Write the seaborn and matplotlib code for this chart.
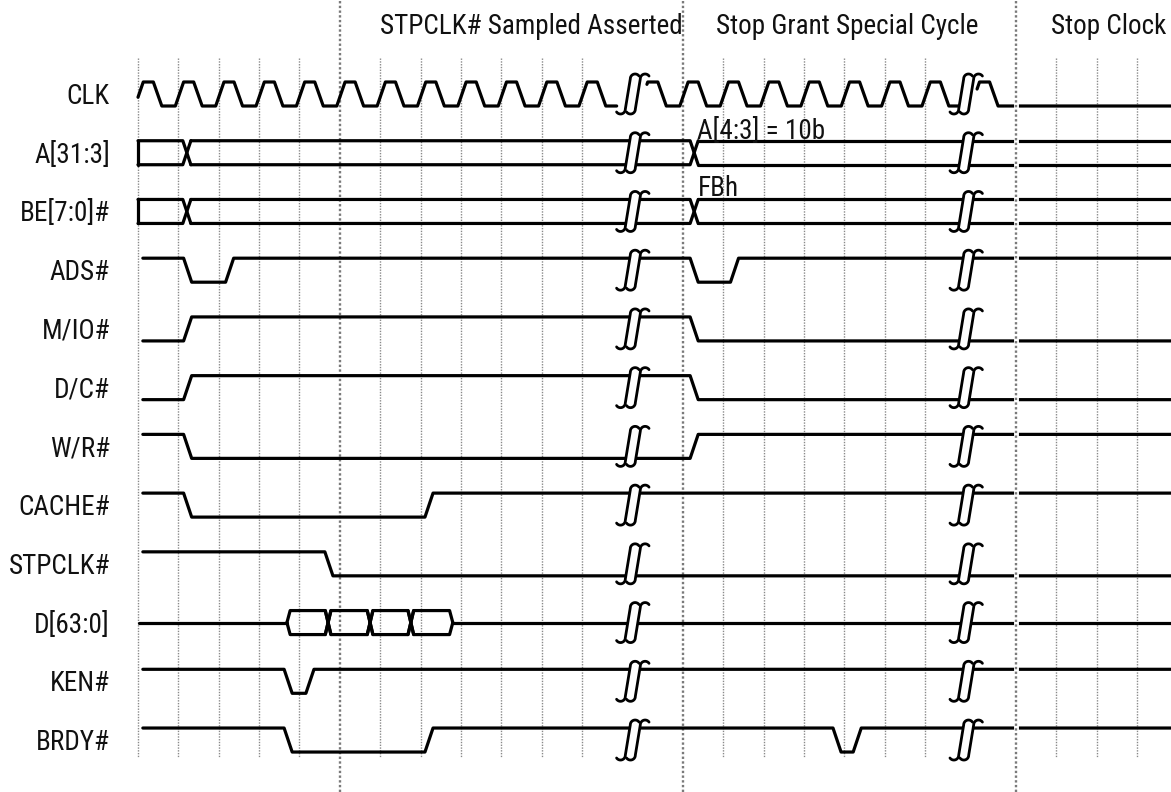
import numpy as np
import pandas as pd
import seaborn as sns
import matplotlib.pyplot as plt
from matplotlib import font_manager as fm

sns.set_theme(style='white')
plt.rcParams['font.family'] = ['Liberation Sans', 'DejaVu Sans']

# ---- data: time in clock periods, one row per signal (top to bottom) ----
signal_names = ['CLK', 'A[31:3]', 'BE[7:0]#', 'ADS#', 'M/IO#', 'D/C#', 'W/R#',
                'CACHE#', 'STPCLK#', 'D[63:0]', 'KEN#', 'BRDY#']

grid_times = [0, 1, 2, 3, 4, 5, 6, 7, 8, 9, 10, 11,
              13.5, 14.5, 15.5, 16.5, 17.5, 18.5, 19.5,
              21.75, 22.75, 23.75, 24.75]
tall_times = [5, 13.5, 21.75]
break_times = [12.26, 20.52]

header_texts = ['STPCLK# Sampled Asserted', 'Stop Grant Special Cycle', 'Stop Clock']
header_times = [9.74, 17.57, 24.06]

# clock: rising edges and the visible stretches between the breaks
clk_rises = [0, 1, 2, 3, 4, 5, 6, 7, 8, 9, 10, 11, 12.5,
             13.5, 14.5, 15.5, 16.5, 17.5, 18.5, 19.5, 20.72]
clk_spans = [(0, 11.86), (12.61, 20.42), (20.79, 25.6)]

# single-line signals: (edge start, new level)
ads_edges = [(1.13, 0), (2.17, 1), (13.68, 0), (14.68, 1)]
mio_edges = [(1.13, 1), (13.68, 0)]
dc_edges = [(1.13, 1), (13.68, 0)]
wr_edges = [(1.13, 0), (13.68, 1)]
cache_edges = [(1.13, 0), (7.11, 1)]
stpclk_edges = [(4.63, 0)]
ken_edges = [(3.62, 0), (4.16, 1)]
brdy_edges = [(3.62, 0), (7.11, 1), (17.22, 0), (17.72, 1)]

# buses
addr_cross = [1.11, 13.68]          # A[31:3] and BE[7:0]# change points
data_open, data_close = 3.69, 7.80  # D[63:0] driven window
data_cross = [4.71, 5.75, 6.76]     # D[63:0] data transfers

annotations = [('A[4:3] = 10b', 13.85, 0.766), ('FBh', 13.87, 1.737)]


# ---- pick a condensed face if one is installed ----
def pick_font():
    prefs = ['Roboto Condensed', 'Liberation Sans Narrow', 'DejaVu Sans',
             'Noto Sans', 'Open Sans', 'Roboto', 'Lato', 'Inter']
    found = []
    for f in fm.fontManager.ttflist:
        narrow = ('Narrow' in f.name or 'Condensed' in f.name
                  or str(f.stretch) in ('condensed', 'semi-condensed', 'extra-condensed'))
        if not narrow or f.style != 'normal':
            continue
        w = f.weight if isinstance(f.weight, (int, float)) else 400
        rank = next((i for i, p in enumerate(prefs) if f.name.startswith(p)), 99)
        found.append((rank, abs(w - 380), f.fname))
    if found:
        return sorted(found)[0][2]
    return fm.findfont(fm.FontProperties(family='Liberation Sans'))


FONT = pick_font()

# ---- geometry ----
PX, PY = 40.36, 58.73        # pixels per clock, pixels per row
X0, Y0 = 138, 94
AMP = 12 / PY
SLEW = 0.2
END = (1171 - X0) / PX

fig = plt.figure(figsize=(11.71, 7.92), dpi=100)
ax = fig.add_axes([0, 0, 1, 1])
ax.set_xlim(-X0 / PX, END)
ax.set_ylim((792 - Y0) / PY, -Y0 / PY)
ax.axis('off')

# size the text so the first header is as wide as in the original
probe = ax.text(0, 0, header_texts[0], fontproperties=fm.FontProperties(fname=FONT, size=20))
fig.canvas.draw()
w = probe.get_window_extent().width
probe.remove()
FS = min(22.0, 20 * 302 / w)
FP = fm.FontProperties(fname=FONT, size=FS)


def lvl(row, level):
    return row + (0.5 - level) * 2 * AMP


segs = []
seg_id = [0]


def add(points, row):
    for u, l in points:
        segs.append((seg_id[0], u, lvl(row, l)))
    seg_id[0] += 1


# clock
pts = [(-1, 0)]
for g in clk_rises:
    pts += [(g - 0.075, 0), (g + 0.13, 1), (g + 0.38, 1), (g + 0.59, 0)]
pts.append((END + 1, 0))
us = np.array([p[0] for p in pts])
ls = np.array([p[1] for p in pts], dtype=float)
for a, b in clk_spans:
    inner = [(u, l) for u, l in zip(us, ls) if a < u < b]
    add([(a, np.interp(a, us, ls))] + inner + [(b, np.interp(b, us, ls))], 0)

# single-line signals
single = [(3, 1, ads_edges), (4, 0, mio_edges), (5, 0, dc_edges), (6, 1, wr_edges),
          (7, 1, cache_edges), (8, 1, stpclk_edges), (10, 1, ken_edges),
          (11, 1, brdy_edges)]
for row, init, edges in single:
    cur = init
    p = [(0.12, cur)]
    for t, new in edges:
        p += [(t, cur), (t + SLEW, new)]
        cur = new
    p.append((END, cur))
    add(p, row)

# address buses
for row in (1, 2):
    add([(0, 1), (0, 0)], row)
    start = 0
    for c in addr_cross:
        add([(start, 1), (c, 1), (c + SLEW, 0)], row)
        add([(start, 0), (c, 0), (c + SLEW, 1)], row)
        start = c + SLEW
    add([(start, 1), (END, 1)], row)
    add([(start, 0), (END, 0)], row)

# data bus
row = 9
W, HW = 0.08, 0.07
add([(0.03, 0.5), (data_open, 0.5)], row)
bounds = [data_open] + data_cross + [data_close]
n = len(bounds) - 1
for i in range(n):
    first, last = i == 0, i == n - 1
    pa = bounds[i] - (0 if first else HW)
    a = bounds[i] + (W if first else HW)
    b = bounds[i + 1] - (W if last else HW)
    pb = bounds[i + 1] + (0 if last else HW)
    add([(pa, 0.5 if first else 0), (a, 1), (b, 1), (pb, 0.5 if last else 0)], row)
    add([(pa, 0.5 if first else 1), (a, 0), (b, 0), (pb, 0.5 if last else 1)], row)
add([(data_close, 0.5), (END, 0.5)], row)

df = pd.DataFrame(segs, columns=['seg', 'u', 'y'])

# grid lines
y_short = ((58 - Y0) / PY, (758 - Y0) / PY)
for g in grid_times:
    if g in tall_times:
        continue
    ax.plot([g, g], y_short, color='#8a8a8a', lw=1.0, ls=(0, (1, 1)), zorder=1)
for g in tall_times:
    top = g == tall_times[-1]
    if top:
        ax.plot([g, g], y_short, color='white', lw=3.5, zorder=4)
    ax.plot([g, g], ax.get_ylim(), color='#7a7a7a', lw=1.7, ls=(0, (1, 1)),
            zorder=5 if top else 1)

sns.lineplot(data=df, x='u', y='y', units='seg', estimator=None, sort=False,
             color='black', linewidth=2.3, ax=ax, legend=False, zorder=3)


# break marks: two integral-sign strokes, in pixel offsets
def integral_stroke(r=4.8, half=20.0, slant=5.0):
    t1 = np.radians(np.linspace(35, 180, 25))
    top_x = slant / 2 + r + r * np.cos(t1)
    top_y = -half + r - r * np.sin(t1)
    mid_x = np.linspace(slant / 2, -slant / 2, 10)
    mid_y = np.linspace(-half + r, half - r, 10)
    t2 = np.radians(np.linspace(0, 145, 25))
    bot_x = -slant / 2 - r + r * np.cos(t2)
    bot_y = half - r + r * np.sin(t2)
    return np.concatenate([top_x, mid_x, bot_x]), np.concatenate([top_y, mid_y, bot_y])


sx, sy = integral_stroke()
OFF = 5.0
for bt in break_times:
    for r in range(len(signal_names)):
        xl = bt + (sx - OFF) / PX
        xr = bt + (sx + OFF) / PX
        yy = r + sy / PY
        ax.fill(np.concatenate([xl, xr[::-1]]), np.concatenate([yy, yy[::-1]]),
                color='white', zorder=4, lw=0)
        ax.plot(xl, yy, color='black', lw=2.0, zorder=6, solid_capstyle='round')
        ax.plot(xr, yy, color='black', lw=2.0, zorder=6, solid_capstyle='round')

# labels
for r, name in enumerate(signal_names):
    ax.text((110 - X0) / PX, r + 0.17, name, ha='right', va='baseline',
            fontproperties=FP, color='#111111')
for txt, t in zip(header_texts, header_times):
    ax.text(t, (34 - Y0) / PY, txt, ha='center', va='baseline',
            fontproperties=FP, color='#111111')
for txt, t, r in annotations:
    ax.text(t, r, txt, ha='left', va='baseline', fontproperties=FP, color='#111111')

fig.savefig('out.png', dpi=100)
